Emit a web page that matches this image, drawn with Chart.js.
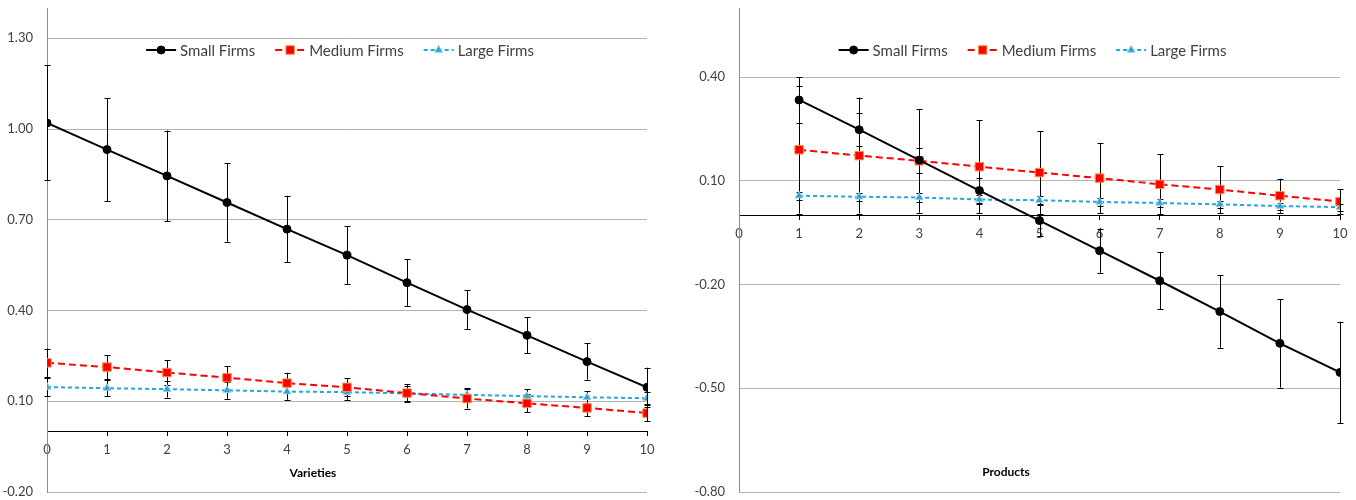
<!DOCTYPE html>
<html>
<head>
<meta charset="utf-8">
<script src="https://cdn.jsdelivr.net/npm/chart.js@4"></script>
<style>
  body { margin: 0; background: #fff; width: 1356px; height: 500px; position: relative; overflow: hidden; font-family: Lato, sans-serif; }
  canvas { position: absolute; top: 0; }
  #leftChart { left: 0; }
  #rightChart { left: 680px; }
  .axis-title { position: absolute; font-weight: bold; font-size: 12px; color: #000; transform: translate(-50%, -50%); white-space: nowrap; }
</style>
</head>
<body>
<canvas id="leftChart" width="665" height="500"></canvas>
<canvas id="rightChart" width="676" height="500"></canvas>
<div class="axis-title" style="left:313px; top:472px;">Varieties</div>
<div class="axis-title" style="left:1006px; top:471px;">Products</div>
<script>
// ----- Data -----
const seriesNames = ["Small Firms", "Medium Firms", "Large Firms"];

// Left panel: Varieties
const varieties = [0, 1, 2, 3, 4, 5, 6, 7, 8, 9, 10];
const smallVarieties = [1.02, 0.932, 0.845, 0.757, 0.669, 0.583, 0.492, 0.403, 0.318, 0.231, 0.146];
const smallVarietiesErr = [0.19, 0.17, 0.15, 0.13, 0.11, 0.095, 0.077, 0.064, 0.06, 0.06, 0.065];
const mediumVarieties = [0.227, 0.213, 0.195, 0.178, 0.160, 0.146, 0.127, 0.109, 0.093, 0.078, 0.061];
const mediumVarietiesErr = [0.047, 0.04, 0.04, 0.037, 0.034, 0.03, 0.03, 0.033, 0.03, 0.028, 0.026];
const largeVarieties = [0.147, 0.143, 0.14, 0.136, 0.132, 0.13, 0.126, 0.121, 0.117, 0.113, 0.11];
const largeVarietiesErr = [0.03, 0.027, 0.028, 0.028, 0.027, 0.025, 0.024, 0.022, 0.022, 0.02, 0.02];
const leftYTicks = [-0.2, 0.1, 0.4, 0.7, 1.0, 1.3];

// Right panel: Products
const products = [1, 2, 3, 4, 5, 6, 7, 8, 9, 10];
const smallProducts = [0.334, 0.248, 0.16, 0.072, -0.015, -0.102, -0.189, -0.278, -0.37, -0.454];
const smallProductsErr = [0.066, 0.047, 0.036, 0.036, 0.045, 0.064, 0.083, 0.105, 0.128, 0.147];
const mediumProducts = [0.19, 0.173, 0.158, 0.141, 0.124, 0.108, 0.09, 0.075, 0.057, 0.04];
const mediumProductsErr = [0.185, 0.168, 0.15, 0.135, 0.119, 0.102, 0.087, 0.068, 0.049, 0.037];
const largeProducts = [0.057, 0.054, 0.052, 0.046, 0.044, 0.039, 0.036, 0.032, 0.027, 0.024];
const largeProductsErr = [0.012, 0.012, 0.012, 0.012, 0.012, 0.011, 0.011, 0.011, 0.01, 0.01];
const rightYTicks = [-0.8, -0.5, -0.2, 0.1, 0.4];

const xTicks = [0, 1, 2, 3, 4, 5, 6, 7, 8, 9, 10];

Chart.defaults.font.family = "Lato, 'Open Sans', sans-serif";
Chart.defaults.color = "#404040";

// Vertical error bars with caps, drawn under the markers
const errorBars = {
  id: "errorBars",
  beforeDatasetsDraw(chart) {
    const { ctx, scales: { x, y } } = chart;
    ctx.save();
    ctx.strokeStyle = "#000";
    ctx.lineWidth = 1;
    chart.data.datasets.forEach(ds => {
      ds.data.forEach((p, i) => {
        const e = ds.errors[i];
        const px = Math.round(x.getPixelForValue(p.x)) + 0.5;
        const top = y.getPixelForValue(p.y + e);
        const bot = y.getPixelForValue(p.y - e);
        ctx.beginPath();
        ctx.moveTo(px, top);
        ctx.lineTo(px, bot);
        ctx.moveTo(px - 3, Math.round(top) + 0.5);
        ctx.lineTo(px + 3, Math.round(top) + 0.5);
        ctx.moveTo(px - 3, Math.round(bot) + 0.5);
        ctx.lineTo(px + 3, Math.round(bot) + 0.5);
        ctx.stroke();
      });
    });
    ctx.restore();
  }
};

// Legend drawn inside the plot area, like the original
const insideLegend = {
  id: "insideLegend",
  afterDraw(chart, args, opts) {
    const ctx = chart.ctx;
    const area = chart.chartArea;
    const sym = 30, gap = 4, spacing = 20;
    ctx.save();
    ctx.font = "15px Lato";
    const items = chart.data.datasets.map(ds => ({ ds, w: ctx.measureText(ds.label).width }));
    const total = items.reduce((s, it) => s + sym + gap + it.w, 0) + spacing * (items.length - 1);
    let x = (area.left + area.right) / 2 - total / 2 + opts.shift;
    const y = opts.y;
    items.forEach(it => {
      const ds = it.ds;
      ctx.strokeStyle = ds.borderColor;
      ctx.lineWidth = ds.borderWidth;
      ctx.setLineDash(ds.borderDash || []);
      ctx.beginPath();
      ctx.moveTo(x, y);
      ctx.lineTo(x + sym, y);
      ctx.stroke();
      ctx.setLineDash([]);
      ctx.fillStyle = ds.pointBackgroundColor;
      ctx.strokeStyle = ds.pointBorderColor;
      ctx.lineWidth = ds.pointBorderWidth;
      Chart.helpers.drawPoint(ctx, {
        pointStyle: ds.pointStyle, radius: ds.pointRadius, rotation: 0, borderWidth: ds.pointBorderWidth
      }, x + sym / 2, y);
      ctx.fillStyle = "#404040";
      ctx.textBaseline = "middle";
      ctx.fillText(ds.label, x + sym + gap, y + 1);
      x += sym + gap + it.w + spacing;
    });
    ctx.restore();
  }
};

function makeDataset(label, xs, ys, errs, style) {
  return Object.assign({
    label: label,
    data: xs.map((v, i) => ({ x: v, y: ys[i] })),
    errors: errs,
    borderWidth: 2,
    fill: false,
    tension: 0
  }, style);
}

const smallStyle = {
  borderColor: "#000", pointStyle: "circle", pointRadius: 4,
  pointBackgroundColor: "#000", pointBorderColor: "#000", pointBorderWidth: 1
};
const mediumStyle = {
  borderColor: "#ff0000", borderDash: [7, 4], pointStyle: "rect", pointRadius: 6,
  pointBackgroundColor: "#ff0000", pointBorderColor: "#f79646", pointBorderWidth: 1
};
const largeStyle = {
  borderColor: "#1ea9e1", borderDash: [4, 3], pointStyle: "triangle", pointRadius: 4.5,
  pointBackgroundColor: "#1ea9e1", pointBorderColor: "#a6c8d8", pointBorderWidth: 1
};

function makeChart(canvasId, datasets, yMin, yMax, yTicks, yAxisWidth, padRight) {
  return new Chart(document.getElementById(canvasId), {
    type: "line",
    data: { datasets: datasets },
    options: {
      responsive: false,
      animation: false,
      devicePixelRatio: 1,
      layout: { padding: { top: 8, bottom: 8, left: 0, right: padRight } },
      plugins: {
        legend: { display: false },
        tooltip: { enabled: false },
        insideLegend: { y: 50, shift: -7 }
      },
      scales: {
        x: {
          type: "linear",
          position: { y: 0 },
          min: 0,
          max: 10,
          afterBuildTicks: s => { s.ticks = xTicks.map(v => ({ value: v })); },
          ticks: { padding: 7, font: { size: 13 }, color: "#404040" },
          grid: { drawOnChartArea: false, drawTicks: true, tickLength: 4, color: "#000" },
          border: { color: "#000", width: 1 }
        },
        y: {
          min: yMin,
          max: yMax,
          afterBuildTicks: s => { s.ticks = yTicks.map(v => ({ value: v })); },
          afterFit: s => {
            s.width = yAxisWidth;
            s.paddingTop = 0;
            s.paddingBottom = 0;
          },
          ticks: {
            padding: 14,
            font: { size: 13 },
            color: "#404040",
            callback: v => v.toFixed(2)
          },
          grid: { color: "#b4b4b4", drawTicks: false },
          border: { color: "#8c8c8c" }
        }
      }
    },
    plugins: [errorBars, insideLegend]
  });
}

document.addEventListener("DOMContentLoaded", () => {
  makeChart("leftChart", [
    makeDataset(seriesNames[0], varieties, smallVarieties, smallVarietiesErr, smallStyle),
    makeDataset(seriesNames[1], varieties, mediumVarieties, mediumVarietiesErr, mediumStyle),
    makeDataset(seriesNames[2], varieties, largeVarieties, largeVarietiesErr, largeStyle)
  ], -0.2, 1.4, leftYTicks, 47, 18);

  makeChart("rightChart", [
    makeDataset(seriesNames[0], products, smallProducts, smallProductsErr, smallStyle),
    makeDataset(seriesNames[1], products, mediumProducts, mediumProductsErr, mediumStyle),
    makeDataset(seriesNames[2], products, largeProducts, largeProductsErr, largeStyle)
  ], -0.8, 0.6, rightYTicks, 59, 16);
});
</script>
</body>
</html>
